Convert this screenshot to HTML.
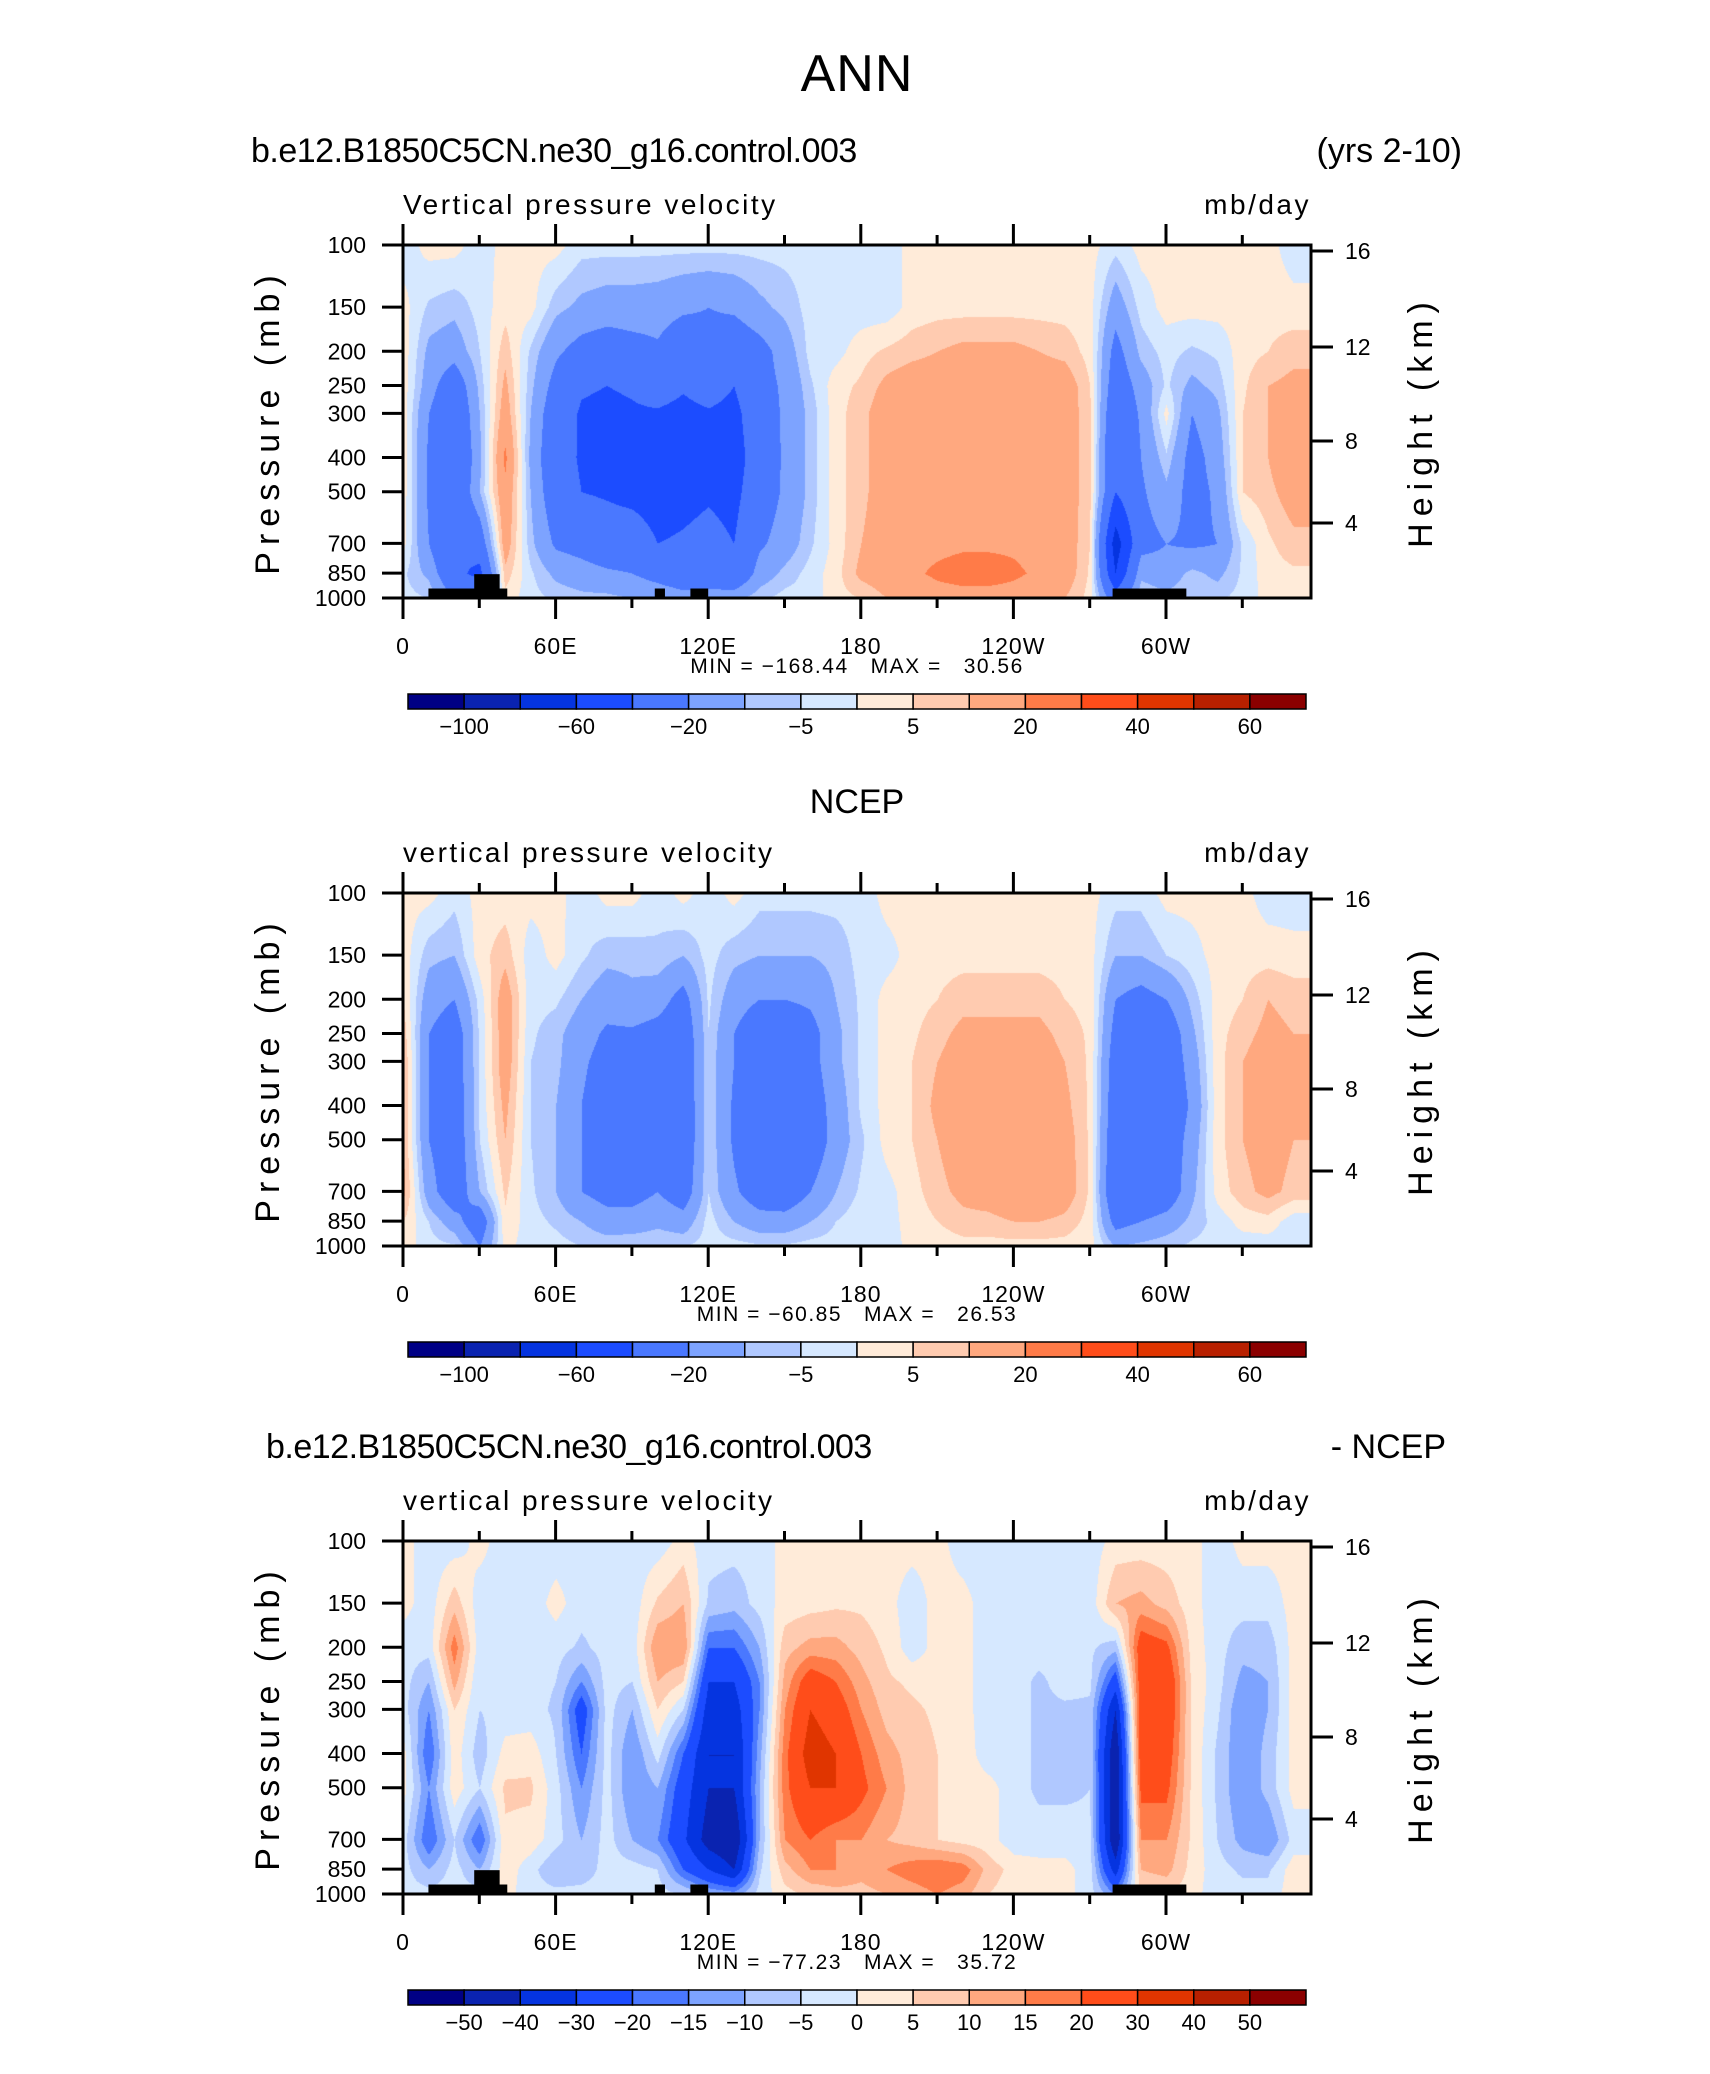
<!DOCTYPE html>
<html><head><meta charset="utf-8">
<style>
html,body{margin:0;padding:0;background:#fff;}
body{width:1710px;height:2074px;position:relative;overflow:hidden;font-family:"Liberation Sans",sans-serif;color:#000;}
.t{position:absolute;white-space:nowrap;line-height:1;}
canvas{position:absolute;}
svg{position:absolute;left:0;top:0;}
</style></head>
<body>
<div class="t" style="left:0;width:1714px;text-align:center;top:48px;font-size:52px;font-weight:300;letter-spacing:1px;">ANN</div>

<div class="t" style="left:251px;top:134px;font-size:34px;letter-spacing:-0.5px;">b.e12.B1850C5CN.ne30_g16.control.003</div>
<div class="t" style="right:248px;top:134px;font-size:34px;">(yrs 2-10)</div>
<div class="t" style="left:0;width:1714px;text-align:center;top:785px;font-size:34px;">NCEP</div>
<div class="t" style="left:266px;top:1430px;font-size:34px;letter-spacing:-0.5px;">b.e12.B1850C5CN.ne30_g16.control.003</div>
<div class="t" style="right:264px;top:1430px;font-size:34px;">- NCEP</div>

<svg id="svg" width="1710" height="2074"></svg>

<script>
// ---------- data ----------
const levels = [100,150,200,250,300,400,500,700,850,1000];
const lons = [0,10,20,30,40,50,60,70,80,90,100,110,120,130,140,150,160,170,180,190,200,210,220,230,240,250,260,270,280,290,300,310,320,330,340,350];
const xTickLabels = ['0','60E','120E','180','120W','60W'];
const pTickLabels = ['100','150','200','250','300','400','500','700','850','1000'];
const hTickLabels = ['16','12','8','4'];
const levelsAB = [-100,-80,-60,-40,-20,-10,-5,0,5,10,20,30,40,50,60];
const labelsAB = ['-100','','-60','','-20','','-5','','5','','20','','40','','60'];
const levelsDiff = [-50,-40,-30,-20,-15,-10,-5,0,5,10,15,20,30,40,50];
const labelsDiff = ['-50','-40','-30','-20','-15','-10','-5','0','5','10','15','20','30','40','50'];
const minMax1 = 'MIN = \u2212168.44   MAX =   30.56';
const minMax2 = 'MIN = \u221260.85   MAX =   26.53';
const minMax3 = 'MIN = \u221277.23   MAX =   35.72';

const model = [
[-3,2,2,-3,2,2,2,-3,-3,-3,-3,-3,-3,-3,-3,-3,-3,-3,-3,-3,2,2,2,2,2,2,2,2,-3,2,2,2,2,2,2,-3],
[2,-6,-8,-3,3,2,-8,-12,-14,-14,-15,-18,-20,-18,-12,-8,-3,-3,-3,-3,2,3,3,3,3,3,3,2,-15,-3,2,2,2,2,3,2],
[3,-12,-15,-5,8,-6,-18,-25,-28,-25,-22,-30,-25,-30,-25,-15,-3,-2,3,6,8,10,12,12,12,10,8,3,-25,-8,-3,-6,-4,3,5,8],
[3,-15,-30,-8,12,-8,-25,-38,-40,-38,-32,-38,-32,-40,-25,-18,-6,3,6,12,15,15,15,15,15,15,15,5,-30,-15,-4,-12,-8,4,10,12],
[3,-20,-35,-10,15,-10,-30,-42,-44,-42,-42,-45,-42,-45,-28,-18,-8,3,8,15,15,16,16,16,16,16,15,6,-35,-18,2,-20,-12,5,10,15],
[3,-22,-38,-12,22,-12,-32,-42,-48,-50,-55,-50,-45,-48,-30,-18,-8,3,8,15,16,16,16,16,16,16,15,6,-40,-20,-6,-25,-15,5,10,18],
[3,-22,-36,-10,18,-10,-30,-40,-42,-45,-48,-45,-42,-45,-28,-18,-8,3,8,15,16,16,16,16,16,16,15,6,-40,-22,-12,-25,-18,5,8,14],
[2,-20,-40,-30,15,-8,-22,-25,-30,-30,-40,-38,-35,-40,-22,-15,-6,2,10,15,16,17,18,18,18,16,15,5,-70,-25,-20,-22,-20,-4,4,8],
[-4,-12,-35,-45,8,-4,-12,-15,-18,-20,-25,-30,-28,-35,-15,-8,-3,3,12,15,18,22,25,25,22,18,15,4,-60,-12,-15,-8,-12,-4,3,4],
[-3,-5,-20,-20,3,-3,-6,-8,-8,-10,-12,-15,-15,-12,-6,-3,-3,3,5,10,12,15,15,15,15,12,10,3,-30,-5,-8,-5,-6,-3,2,3]
];
const ncep = [
[2,2,-3,2,2,2,2,-3,2,2,-3,2,-3,2,-3,-3,-3,-3,-3,2,2,2,2,2,2,2,2,2,-3,-3,2,2,2,2,-3,-3],
[3,-8,-10,3,8,-3,2,-4,-8,-8,-6,-10,-3,-8,-10,-10,-10,-8,-3,-2,2,3,3,3,3,3,3,2,-10,-10,-5,-2,2,3,3,2],
[5,-15,-20,-3,15,-3,-4,-10,-15,-12,-15,-25,-4,-15,-20,-20,-18,-10,-4,2,3,5,8,8,8,8,5,3,-20,-25,-20,-8,2,5,10,8],
[8,-20,-28,-4,15,-4,-8,-15,-22,-22,-25,-30,-5,-20,-30,-30,-25,-12,-4,2,4,8,12,12,12,12,8,4,-25,-30,-30,-12,3,8,12,10],
[10,-20,-28,-4,15,-5,-8,-18,-25,-25,-25,-30,-6,-20,-30,-32,-25,-12,-4,2,5,10,14,14,14,14,10,4,-28,-30,-30,-15,3,10,14,12],
[10,-20,-30,-4,12,-5,-10,-20,-28,-28,-30,-32,-5,-22,-32,-35,-28,-15,-4,2,5,12,15,15,16,16,12,4,-30,-32,-32,-18,3,10,14,12],
[10,-20,-30,-5,10,-5,-10,-20,-28,-28,-30,-32,-5,-22,-32,-35,-30,-15,-6,2,5,10,15,15,18,20,14,4,-32,-32,-30,-15,3,10,14,10],
[12,-15,-30,-10,6,-4,-10,-20,-25,-25,-20,-28,-5,-18,-28,-30,-20,-10,-4,-2,3,8,12,14,18,20,15,4,-35,-35,-30,-12,2,8,12,8],
[5,-5,-15,-30,4,-3,-6,-10,-15,-15,-12,-15,-3,-10,-15,-15,-10,-5,-2,-2,2,5,8,8,10,10,8,3,-25,-20,-15,-8,-3,2,3,-3],
[3,-3,-4,-20,2,-3,-3,-5,-6,-5,-5,-5,-3,-3,-4,-4,-3,-3,-3,-3,2,2,3,3,3,3,3,2,-10,-8,-6,-4,-3,-3,-3,-3]
];
const diff = [
[2,-3,-3,2,-3,-3,-3,-3,-3,-3,-3,2,-3,-3,-3,2,2,2,2,2,2,2,-3,-3,-3,-3,-3,-3,2,2,2,2,-3,2,2,2],
[2,-3,8,-3,-3,-3,2,-3,-3,-3,6,10,-6,-8,-3,2,3,4,4,2,-3,2,2,-3,-3,-3,-3,-3,10,12,8,2,-3,-3,-3,2],
[-3,-3,18,-3,-3,-3,-3,-6,-3,-3,15,15,-20,-20,-10,8,12,12,8,4,-3,2,2,-3,-3,-3,-3,-4,-8,25,22,3,-3,-8,-8,2],
[-3,-10,12,-5,-3,-3,-5,-15,-3,-5,10,5,-30,-30,-15,12,25,20,12,6,4,3,2,-3,-3,-6,-3,-4,-25,25,28,4,-3,-12,-10,2],
[-3,-15,5,-5,-3,-3,-6,-25,-3,-10,5,-5,-35,-35,-15,15,30,25,15,8,6,4,2,-3,-3,-6,-6,-6,-40,25,28,4,-4,-15,-10,2],
[2,-20,3,-8,2,3,-5,-20,-3,-15,-3,-20,-40,-40,-12,18,35,30,20,12,8,5,3,-3,-3,-6,-6,-6,-50,25,25,4,-6,-15,-8,2],
[2,-15,3,-5,6,6,-3,-15,-3,-15,-10,-25,-40,-40,-10,18,30,30,22,15,8,5,3,2,-3,-6,-6,-5,-50,22,22,4,-6,-15,-8,2],
[-3,-20,-5,-20,4,3,-3,-10,-3,-10,-15,-28,-45,-50,-10,15,20,15,15,10,8,5,3,2,-3,-3,-3,-4,-50,15,15,4,-5,-12,-15,-3],
[-3,-10,-3,-10,3,-3,-10,-8,-3,-3,-5,-20,-30,-40,-6,8,15,15,12,15,18,20,18,8,3,2,2,-3,-35,10,12,3,-3,-6,-6,3],
[-3,-3,-3,-3,2,-3,-3,-3,-3,-3,-3,-5,-10,-12,-3,3,6,8,8,10,12,15,12,5,2,2,2,-3,-15,5,5,2,-3,-3,-3,3]
];
// land mask blocks: [lonStart, lonEnd, topPressure]
const landLon0 = [10,28,99,113,279];
const landLon1 = [41,38,103,120,308];
const landTopP = [940,856,940,940,940];

const palette = ['#000085','#0a23b0','#0534e0','#1c4cff','#4a78ff','#7da3ff','#b0c8ff','#d6e8ff','#ffebd9','#ffcbb0','#ffa87f','#ff7b48','#ff4d1a','#e03500','#b82000','#8b0000'];

// ---------- layout ----------
const PX0 = 403, PX1 = 1311, PW = PX1-PX0, DEG = 152.6/60;
const panels = [
 {top:245, data:model, lev:levelsAB, lab:labelsAB, mm:minMax1, sub:'Vertical pressure velocity', land:true, name:'model'},
 {top:893, data:ncep, lev:levelsAB, lab:labelsAB, mm:minMax2, sub:'vertical pressure velocity', land:false, name:'ncep'},
 {top:1541, data:diff, lev:levelsDiff, lab:labelsDiff, mm:minMax3, sub:'vertical pressure velocity', land:true, name:'difference'}
];
const PH = 353;
const hOffsets = [6,102,196,278];

const svg = document.getElementById('svg');
const NS = 'http://www.w3.org/2000/svg';
function mk(tag, attrs, parent){ const e=document.createElementNS(NS,tag); for(const k in attrs) e.setAttribute(k,attrs[k]); (parent||svg).appendChild(e); return e; }
function xScale(lon){ return PX0 + lon*DEG; }
function yScale(p, top){ return top + PH - Math.log(1000/p)/Math.log(10)*PH; }

const llev = levels.map(v=>Math.log(v));
function sample(data, lon, lnp){
  let fi = lon/10; if(fi<0) fi=0; if(fi>lons.length-1) fi=lons.length-1;
  const i0 = Math.floor(fi), i1 = Math.min(i0+1, lons.length-1), fx = fi-i0;
  let j0=0;
  if(lnp<=llev[0]) j0=0; else if(lnp>=llev[llev.length-1]) j0=llev.length-2;
  else { for(let j=0;j<llev.length-1;j++){ if(lnp>=llev[j] && lnp<=llev[j+1]){j0=j;break;} } }
  let fy = (lnp-llev[j0])/(llev[j0+1]-llev[j0]); fy=Math.max(0,Math.min(1,fy));
  const a = data[j0][i0]*(1-fx)+data[j0][i1]*fx;
  const b = data[j0+1][i0]*(1-fx)+data[j0+1][i1]*fx;
  return a*(1-fy)+b*fy;
}
function hexRGB(h){ return [parseInt(h.slice(1,3),16),parseInt(h.slice(3,5),16),parseInt(h.slice(5,7),16)]; }
const rgbPal = palette.map(hexRGB);

panels.forEach((P, pi) => {
  const top = P.top;
  const cv = document.createElement('canvas');
  cv.width = PW; cv.height = PH;
  cv.style.left = PX0+'px'; cv.style.top = top+'px';
  
  
  document.body.insertBefore(cv, svg);
  const ctx = cv.getContext('2d');
  const img = ctx.createImageData(PW, PH);
  for(let py=0; py<PH; py++){
    const lnp = Math.log(1000) - (PH-py)/PH*Math.log(10);
    for(let px=0; px<PW; px++){
      const lon = px/DEG;
      const v = sample(P.data, lon, lnp);
      let k=0; while(k<P.lev.length && v>=P.lev[k]) k++;
      const c = rgbPal[k]; const o=(py*PW+px)*4;
      img.data[o]=c[0]; img.data[o+1]=c[1]; img.data[o+2]=c[2]; img.data[o+3]=255;
    }
  }
  ctx.putImageData(img,0,0);

  const g = mk('g', {});
  
  

  if(P.land){
    landLon0.forEach((l0, i) => {
      const r = mk('rect', {x:xScale(l0), y:yScale(landTopP[i],top), width:xScale(landLon1[i])-xScale(l0), height:top+PH-yScale(landTopP[i],top), fill:'#000'}, g);
      
      
    });
  }
  const fr = mk('rect', {x:PX0, y:top, width:PW, height:PH, fill:'none', stroke:'#000', 'stroke-width':3}, g);
  
  

  for(let lon=0; lon<=330; lon+=30){
    const x = xScale(lon); const major = lon%60===0; const L = major?21:10;
    mk('line',{x1:x,y1:top,x2:x,y2:top-L,stroke:'#000','stroke-width':3},g);
    mk('line',{x1:x,y1:top+PH,x2:x,y2:top+PH+L,stroke:'#000','stroke-width':3},g);
  }
  xTickLabels.forEach((t,i)=>{
    const tx = mk('text',{x:xScale(i*60), y:top+PH+56, 'text-anchor':'middle','font-size':23,'letter-spacing':1,'font-family':'Liberation Sans, sans-serif'},g);
    tx.textContent=t;
    
    
  });
  levels.forEach((p,i)=>{
    const y = yScale(p,top);
    mk('line',{x1:PX0,y1:y,x2:PX0-21,y2:y,stroke:'#000','stroke-width':3},g);
    const tx = mk('text',{x:366, y:y+8, 'text-anchor':'end','font-size':23,'font-family':'Liberation Sans, sans-serif'},g);
    tx.textContent=pTickLabels[i];
    
    
  });
  hTickLabels.forEach((t,i)=>{
    const y = top+hOffsets[i];
    mk('line',{x1:PX1,y1:y,x2:PX1+22,y2:y,stroke:'#000','stroke-width':3},g);
    const tx = mk('text',{x:1345, y:y+8,'font-size':23,'font-family':'Liberation Sans, sans-serif'},g);
    tx.textContent=t;
    
    
  });
  const cy = top+PH/2;
  const yt = mk('text',{x:0,y:0,transform:`translate(279,${cy}) rotate(-90)`,'text-anchor':'middle','font-size':34,'letter-spacing':7,'font-family':'Liberation Sans, sans-serif'},g);
  yt.textContent='Pressure (mb)';
  
  
  const ht = mk('text',{x:0,y:0,transform:`translate(1432,${cy}) rotate(-90)`,'text-anchor':'middle','font-size':34,'letter-spacing':7,'font-family':'Liberation Sans, sans-serif'},g);
  ht.textContent='Height (km)';
  
  
  const st = mk('text',{x:PX0, y:top-31,'font-size':28,'letter-spacing':2.5,'font-family':'Liberation Sans, sans-serif'},g);
  st.textContent=P.sub;
  
  
  const un = mk('text',{x:PX1, y:top-31,'text-anchor':'end','font-size':28,'letter-spacing':2.5,'font-family':'Liberation Sans, sans-serif'},g);
  un.textContent='mb/day';
  
  
  const mmx = mk('text',{x:857, y:top+PH+75,'text-anchor':'middle','font-size':21,'letter-spacing':1.5,'font-family':'Liberation Sans, sans-serif',style:'white-space:pre'},g);
  mmx.textContent=P.mm;
  
  

  const cbTop = top+PH+96, cbX0=408, cbX1=1306, cbH=15, bw=(cbX1-cbX0)/16;
  const cb = mk('g',{},g);
  
  
  palette.forEach((c,i)=>{
    const r = mk('rect',{x:cbX0+i*bw,y:cbTop,width:bw,height:cbH,fill:c,stroke:'#000','stroke-width':1.5},cb);
    
    
  });
  P.lab.forEach((t,i)=>{
    if(!t) return;
    const tx = mk('text',{x:cbX0+(i+1)*bw, y:cbTop+cbH+25,'text-anchor':'middle','font-size':22,'font-family':'Liberation Sans, sans-serif'},cb);
    tx.textContent = t.replace('-','\u2212');
    
    
  });
});
</script>
</body></html>
